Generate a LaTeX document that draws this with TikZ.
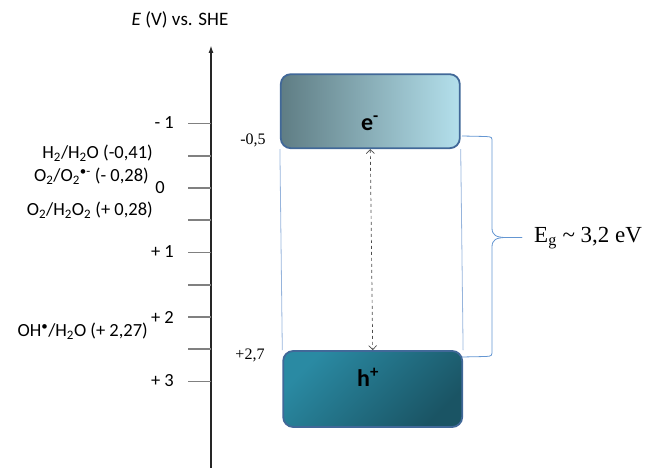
\documentclass[tikz,border=0pt]{standalone}
\usepackage{fontspec}
\setmainfont{Carlito}
\newfontfamily\timesfont{Liberation Serif}
\usetikzlibrary{positioning,arrows.meta}
\definecolor{cbdark}{RGB}{95,125,132}
\definecolor{cblight}{RGB}{180,224,236}
\definecolor{vblight}{RGB}{42,138,163}
\definecolor{vbdark}{RGB}{26,84,100}
\definecolor{boxline}{RGB}{65,104,152}
\definecolor{edgeblue}{RGB}{150,180,220}
\definecolor{braceblue}{RGB}{100,150,210}
\definecolor{tickgray}{RGB}{128,128,128}
\tikzset{
  lbl/.style = {font=\fontsize{18.5}{20}\selectfont, anchor=east, inner sep=0pt},
  num/.style = {font=\timesfont\fontsize{16}{18}\selectfont, inner sep=0pt},
  band/.style = {draw=boxline, line width=1.8pt, rounded corners=10pt,
    inner sep=0pt, minimum width=179pt},
  carrier/.style = {font=\bfseries\fontsize{24}{26}\selectfont, inner sep=0pt},
  tick/.style = {draw=tickgray, line width=1.8pt},
  edge/.style = {draw=edgeblue, line width=0.8pt},
}

\begin{document}
\begin{tikzpicture}[x=1pt, y=-1pt]
  \useasboundingbox (0,0) rectangle (649,468);
  % potential axis
  \node (title) at (180,20) [font=\fontsize{19}{22}\selectfont] {\textit{E} (V) vs. SHE};
  \coordinate (base) at (211,468);
  \coordinate (top) at (211,45);
  \draw[line width=2pt, black!85, -{Latex[length=8pt,width=5pt]}] (base) -- (top);
  \foreach \k in {0,...,8}
    \draw[tick] (211,123.5+32.25*\k) -- ++(-23,0);
  \node[lbl] (m1) at (174,123) {- 1};
  \node[lbl] (zero) at (165,188) {0};
  \node[lbl] (p1) at (174,252) {+ 1};
  \node[lbl] (p2) at (174,317) {+ 2};
  \node[lbl] (p3) at (174,381) {+ 3};
  \node[lbl] (hyd) at (153,153.5) {H\textsubscript{2}/H\textsubscript{2}O (-0,41)};
  \node[lbl] (sup) at (149,176) {O\textsubscript{2}/O\textsubscript{2}\textsuperscript{\textbullet-} (- 0,28)};
  \node[lbl] (perox) at (153,210) {O\textsubscript{2}/H\textsubscript{2}O\textsubscript{2} (+ 0,28)};
  \node[lbl] (hydrox) at (148,331) {OH\textsuperscript{\textbullet}/H\textsubscript{2}O (+ 2,27)};
  % bands
  \node (cb) at (370.3,111.2) [band, minimum height=74pt, left color=cbdark, right color=cblight] {};
  \node (vb) at (372.7,389) [band, minimum height=76pt, top color=vblight, bottom color=vbdark, shading angle=45] {};
  \node (eminus) at (370,123) [carrier] {e\textsuperscript{-}};
  \node (hplus) at (368,377) [carrier] {h\textsuperscript{+}};
  \node (cbval) at (253,140) [num] {-0,5};
  \node (vbval) at (250,355) [num] {+2,7};
  \draw[edge] (cb.south west) -- (vb.north west);
  \draw[edge] (cb.south east) -- (vb.north east);
  \draw[dashed, line width=0.7pt, black!70, {Straight Barb[length=4pt]}-{Straight Barb[length=4pt]}] (cb.south) -- (vb.north);
  % gap brace
  \coordinate (brtop) at (462,136);
  \coordinate (brbot) at (462,357);
  \coordinate (brtip) at (522,237.5);
  \draw[braceblue, line width=0.8pt] (brtop) -- (486,136.5) .. controls (492,137) .. (492,142) -- (492,228)
    .. controls (492,235) and (496,237.5) .. (506,237.5) -- (brtip);
  \draw[braceblue, line width=0.8pt] (brtip) -- (506,237.5) .. controls (496,237.5) and (492,240) .. (492,247)
    -- (492,350) .. controls (492,356) .. (486,356.5) -- (brbot);
  \node (gap) at (534,238) [anchor=west, inner sep=0pt, font=\timesfont\fontsize{23}{25}\selectfont]
    {E\textsubscript{g} \textasciitilde{} 3,2 eV};
\end{tikzpicture}
\end{document}
